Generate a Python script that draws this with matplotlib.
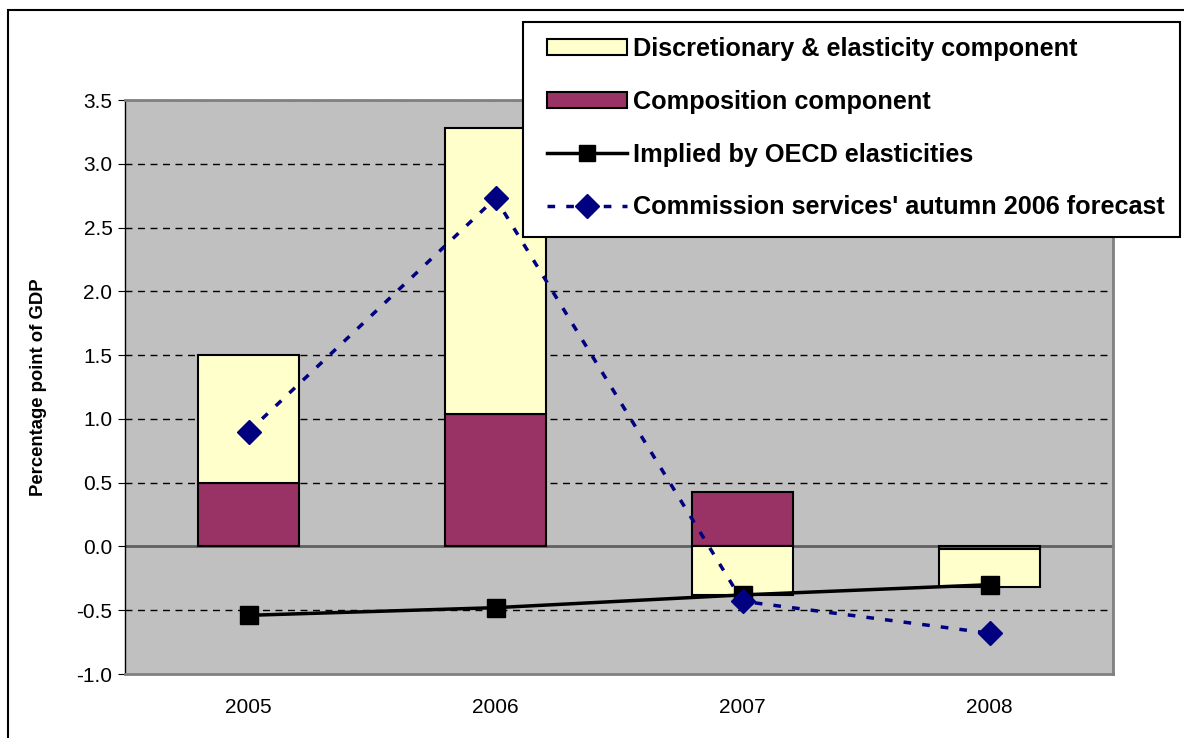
import numpy as np
import matplotlib.pyplot as plt
from matplotlib.patches import Rectangle
from matplotlib.lines import Line2D

plt.rcParams['font.family'] = ['Liberation Sans', 'DejaVu Sans']

years = ['2005', '2006', '2007', '2008']
composition = [0.50, 1.04, 0.43, -0.02]
discretionary = [1.00, 2.24, -0.38, -0.30]
oecd = [-0.54, -0.48, -0.38, -0.30]
commission = [0.90, 2.73, -0.43, -0.68]

W, H = 1184, 738
fig = plt.figure(figsize=(W / 100, H / 100), dpi=100)
ax = fig.add_axes([125 / W, 1 - 674 / H, 988 / W, 574 / H])
ax.set_facecolor('#C0C0C0')

x = np.arange(len(years))
w = 0.405
dash = (0, (2.2, 3.2))

# stack positive and negative parts separately, like a spreadsheet stacked column
comp = np.array(composition)
disc = np.array(discretionary)
disc_bottom = np.where(np.sign(disc) == np.sign(comp), comp, 0.0)

ax.bar(x, comp, w, color='#993366', edgecolor='black', linewidth=1.5, zorder=3)
ax.bar(x, disc, w, bottom=disc_bottom, color='#FFFFCC', edgecolor='black',
       linewidth=1.5, zorder=3)

ax.plot(x, oecd, color='black', linewidth=2.5, marker='s', markersize=13,
        markerfacecolor='black', zorder=4)
ax.plot(x, commission, color='#000080', linewidth=2.5, linestyle=dash,
        marker='D', markersize=12, markerfacecolor='#000080', zorder=5)

ax.set_xlim(-0.5, 3.5)
ax.set_ylim(-1.0, 3.5)
yt = np.arange(-1.0, 3.51, 0.5)
ax.set_yticks(yt)
ax.set_yticklabels(['%.1f' % v for v in yt])
ax.set_xticks(x)
ax.set_xticklabels(years)
ax.tick_params(axis='y', labelsize=15, length=5, pad=4)
ax.tick_params(axis='x', labelsize=15, length=0, pad=17)

for v in yt:
    if v > -0.9 and abs(v) > 1e-9:
        ax.axhline(v, color='black', linewidth=1, linestyle=(0, (5, 4)), zorder=1)
ax.axhline(0, color='#606060', linewidth=2, zorder=2)

for side in ['top', 'right', 'bottom']:
    ax.spines[side].set_color('#808080')
    ax.spines[side].set_linewidth(2)
ax.spines['left'].set_color('black')
ax.spines['left'].set_linewidth(1)

ax.set_ylabel('Percentage point of GDP', fontsize=13.3, fontweight='bold', labelpad=21)

# legend box, drawn as a separate white panel over the plot
fig.patches.append(Rectangle((523 / W, 1 - 237 / H), 657 / W, 215 / H,
                             transform=fig.transFigure, facecolor='white',
                             edgecolor='black', linewidth=1.5, zorder=4))

handles = [
    Rectangle((0, 0), 1, 1, facecolor='#FFFFCC', edgecolor='black', linewidth=1.5),
    Rectangle((0, 0), 1, 1, facecolor='#993366', edgecolor='black', linewidth=1.5),
    Line2D([], [], color='black', linewidth=2.5, marker='s', markersize=12),
    Line2D([], [], color='#000080', linewidth=2.5, linestyle=dash,
           marker='D', markersize=12),
]
labels = ['Discretionary & elasticity component', 'Composition component',
          'Implied by OECD elasticities', "Commission services' autumn 2006 forecast"]
leg = fig.legend(handles, labels, loc='upper left',
                 bbox_to_anchor=(547 / W, 1 - 37 / H),
                 prop={'size': 18.2, 'weight': 'bold'}, frameon=False,
                 handlelength=3.15, handleheight=0.6, labelspacing=1.14,
                 borderpad=0, borderaxespad=0, handletextpad=0.25)
leg.set_zorder(6)

# outer chart frame
fig.patches.append(Rectangle((8 / W, -0.1), 1.2, 1 - 10 / H + 0.1,
                             transform=fig.transFigure, fill=False,
                             edgecolor='black', linewidth=1.5))

fig.savefig('out.png', dpi=100)
